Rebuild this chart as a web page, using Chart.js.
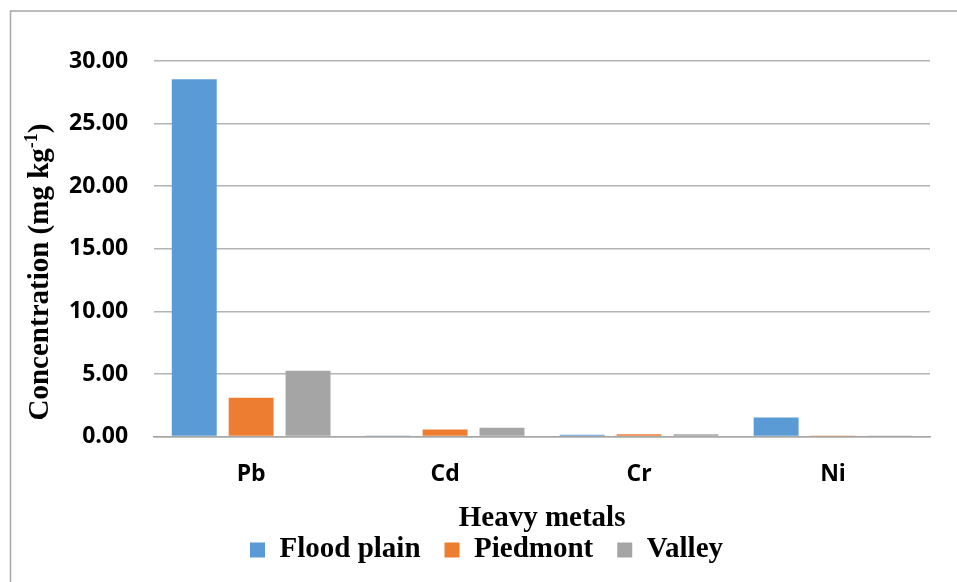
<!DOCTYPE html>
<html>
<head>
<meta charset="utf-8">
<script src="https://cdn.jsdelivr.net/npm/chart.js@4/dist/chart.umd.min.js"></script>
<style>
  html, body { margin: 0; padding: 0; background: #fff; }
  #wrap { width: 957px; height: 582px; position: relative; }
</style>
</head>
<body>
<div id="wrap"><canvas id="c" width="957" height="582"></canvas></div>
<script>
// data
const metals = ['Pb', 'Cd', 'Cr', 'Ni']
const floodPlain = [28.55, 0.05, 0.14, 1.52]
const piedmont = [3.10, 0.56, 0.19, 0.03]
const valley = [5.25, 0.70, 0.19, 0.03]

const serif = '"Liberation Serif", "Times New Roman", serif'
const sans = '"Open Sans", sans-serif'

// outer frame + rotated axis title with superscript
const decor = {
  id: 'decor',
  beforeDraw(chart) {
    const ctx = chart.ctx
    ctx.save()
    ctx.strokeStyle = '#a6a6a6'
    ctx.lineWidth = 1.5
    ctx.strokeRect(10.5, 11, 1000, 700)
    ctx.restore()
  },
  afterDraw(chart) {
    const ctx = chart.ctx
    ctx.save()
    ctx.translate(41, 272)
    ctx.rotate(-Math.PI / 2)
    ctx.fillStyle = '#000'
    ctx.textBaseline = 'middle'
    const big = 'bold 29px ' + serif
    const small = 'bold 18px ' + serif
    const a = 'Concentration (mg kg', b = '-1', c = ')'
    ctx.font = big
    const wa = ctx.measureText(a).width, wc = ctx.measureText(c).width
    ctx.font = small
    const wb = ctx.measureText(b).width
    let x = -(wa + wb + wc) / 2
    ctx.font = big
    ctx.fillText(a, x, 0)
    x += wa
    ctx.font = small
    ctx.fillText(b, x, -9)
    x += wb
    ctx.font = big
    ctx.fillText(c, x, 0)
    ctx.restore()
  }
}

new Chart(document.getElementById('c'), {
  type: 'bar',
  data: {
    labels: metals,
    datasets: [
      { label: 'Flood plain', data: floodPlain, backgroundColor: '#5b9bd5' },
      { label: 'Piedmont', data: piedmont, backgroundColor: '#ed7d31' },
      { label: 'Valley', data: valley, backgroundColor: '#a5a5a5' }
    ]
  },
  options: {
    responsive: false,
    animation: false,
    devicePixelRatio: 1,
    layout: { padding: { left: 43, right: 27, top: 61, bottom: 7.5 } },
    datasets: { bar: { categoryPercentage: 0.88, barPercentage: 0.79 } },
    plugins: {
      tooltip: { enabled: false },
      legend: {
        position: 'bottom',
        labels: {
          color: '#000',
          boxWidth: 15,
          boxHeight: 15,
          padding: 24,
          font: { family: serif, size: 29, weight: 'bold' }
        }
      }
    },
    scales: {
      x: {
        grid: { display: false },
        border: { color: '#a6a6a6', width: 1.5 },
        ticks: {
          color: '#000',
          padding: 16.4,
          font: { family: sans, size: 23, weight: 'bold' }
        },
        title: {
          display: true,
          text: 'Heavy metals',
          color: '#000',
          padding: { top: 0, bottom: -20 },
          font: { family: serif, size: 29, weight: 'bold', lineHeight: 0.914 }
        }
      },
      y: {
        min: 0,
        max: 30,
        grid: { color: '#b4b4b4', lineWidth: 1.5, drawTicks: false },
        border: { display: false },
        ticks: {
          stepSize: 5,
          color: '#000',
          padding: 26,
          font: { family: sans, size: 23, weight: 'bold' },
          callback: v => v.toFixed(2)
        }
      }
    }
  },
  plugins: [decor]
})
</script>
</body>
</html>
